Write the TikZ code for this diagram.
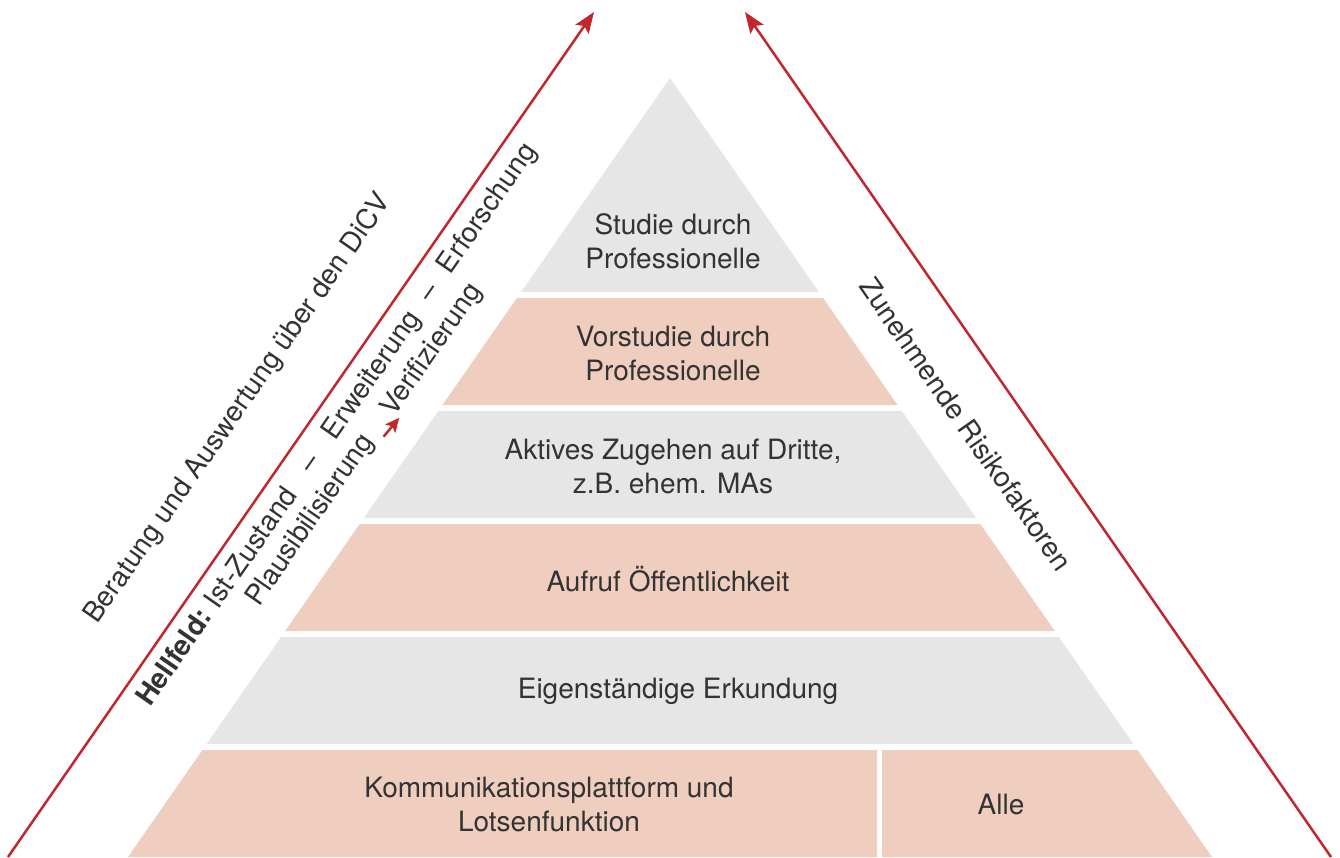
\documentclass[tikz,border=0pt]{standalone}
\usepackage{fontspec}
\setmainfont{TeX Gyre Heros}
\usetikzlibrary{arrows.meta}
\definecolor{bandgray}{HTML}{E6E6E6}
\definecolor{bandpink}{HTML}{EFCDBF}
\definecolor{arrowred}{HTML}{C1272D}
\definecolor{txt}{HTML}{333333}
\begin{document}
\begin{tikzpicture}[x=1pt,y=-1pt,
  lbl/.style={text=txt, font=\fontsize{28}{34}\selectfont, align=center, inner sep=0pt},
  sidelbl/.style={text=txt, font=\fontsize{28}{33}\selectfont, inner sep=0pt},
  bigarrow/.style={draw=arrowred, line width=2.5pt, -{Stealth[length=21pt,width=16pt,inset=4pt]}},
  smallarrow/.style={draw=arrowred, line width=2.5pt, -{Stealth[length=14pt,width=13pt,inset=3pt]}},
  grayband/.style={fill=bandgray},
  pinkband/.style={fill=bandpink}]
\fill[white] (0,0) rectangle (1340,857);
\useasboundingbox (0,0) rectangle (1340,857);
% pyramid bands
\fill[grayband] (670,78) -- (818.9,292) -- (521.1,292) -- cycle;
\fill[pinkband] (516.9,298) -- (823.1,298) -- (897.5,405) -- (442.5,405) -- cycle;
\fill[grayband] (438.3,411) -- (901.7,411) -- (976.2,518) -- (363.8,518) -- cycle;
\fill[pinkband] (359.7,524) -- (980.3,524) -- (1054.8,631) -- (285.2,631) -- cycle;
\fill[grayband] (281.1,637) -- (1058.9,637) -- (1133.4,744) -- (206.6,744) -- cycle;
\fill[pinkband] (202.4,750) -- (877,750) -- (877,857) -- (128,857) -- cycle;
\fill[pinkband] (882,750) -- (1137.6,750) -- (1212,857) -- (882,857) -- cycle;
% band labels
\node[lbl] (t1) at (673,241) {Studie durch\\Professionelle};
\node[lbl] (t2) at (673,353) {Vorstudie durch\\Professionelle};
\node[lbl] (t3) at (673,466) {Aktives Zugehen auf Dritte,\\z.B. ehem. MAs};
\node[lbl] (t4) at (668,579) {Aufruf Öffentlichkeit};
\node[lbl] (t5) at (678,691) {Eigenständige Erkundung};
\node[lbl] (t6) at (549,804) {Kommunikationsplattform und\\Lotsenfunktion};
\node[lbl] (t7) at (1001,804) {Alle};
% big arrows
\coordinate (la0) at (8,857);
\coordinate (la1) at (594,12);
\coordinate (ra0) at (1331,857);
\coordinate (ra1) at (745,12);
\draw[bigarrow] (la0) -- (la1);
\draw[bigarrow] (ra0) -- (ra1);
% side texts
\node[sidelbl, rotate=55.2, anchor=base west] (berat) at (97.2,624.9) {Beratung und Auswertung über den DiCV};
\node[sidelbl, rotate=55.2, anchor=base west] (hell) at (150.2,708) {\textbf{Hellfeld:}\hspace{0.31em}Ist-Zustand\hspace{0.9em}–\hspace{0.9em}Erweiterung\hspace{0.66em}–\hspace{0.66em}Erforschung};
\node[sidelbl, rotate=55.2, anchor=base west] (plaus) at (258.9,607.7) {Plausibilisierung};
\node[sidelbl, rotate=55.2, anchor=base west] (verif) at (394,417.8) {Verifizierung};
\draw[smallarrow, shorten <=9pt, shorten >=-3pt] ([shift={(3.3,2.3)}]plaus.base east) -- ([shift={(3.3,2.3)}]verif.base west);
\node[sidelbl, rotate=-55.2] (risk) at (966,424) {Zunehmende Risikofaktoren};
\end{tikzpicture}
\end{document}
